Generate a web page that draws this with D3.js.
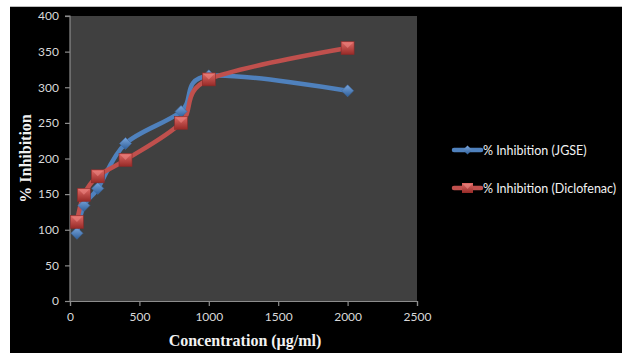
<!DOCTYPE html>
<html>
<head>
<meta charset="utf-8">
<script src="https://cdn.jsdelivr.net/npm/d3@7"></script>
<style>
  html, body { margin: 0; padding: 0; background: #fff; }
  svg { display: block; }
</style>
</head>
<body>
<svg id="chart" width="622" height="353"></svg>
<script>
// Concentration levels (µg/ml)
const concentrations = [50, 100, 200, 400, 800, 1000, 2000];
// % inhibition for the extract and the reference drug
const inhibitionJGSE = [95, 134, 158, 221, 266, 316, 295];
const inhibitionDiclofenac = [111, 149, 175, 198, 250, 311, 355];
const seriesNames = ["% Inhibition (JGSE)", "% Inhibition (Diclofenac)"];
const xTicks = [0, 500, 1000, 1500, 2000, 2500];
const yTicks = [0, 50, 100, 150, 200, 250, 300, 350, 400];

const svg = d3.select("#chart");
const W = 622, H = 353;

// outer frame: thin white margin, black chart area
svg.append("rect").attr("width", W).attr("height", H).attr("fill", "#fff");
svg.append("line").attr("x1", 10).attr("x2", W).attr("y1", 6.5).attr("y2", 6.5)
  .attr("stroke", "#bdbdbd").attr("stroke-width", 1);
svg.append("rect").attr("x", 10).attr("y", 7).attr("width", W - 10).attr("height", H - 7).attr("fill", "#000");

const plot = { left: 70, right: 417, top: 16, bottom: 301 };
const x = d3.scaleLinear().domain([0, 2500]).range([plot.left, plot.right]);
const y = d3.scaleLinear().domain([0, 400]).range([plot.bottom, plot.top]);

svg.append("rect")
  .attr("x", plot.left).attr("y", plot.top)
  .attr("width", plot.right - plot.left).attr("height", plot.bottom - plot.top)
  .attr("fill", "#404040");

// gradients for marker shading
const defs = svg.append("defs");
function grad(id, c1, c2) {
  const g = defs.append("linearGradient").attr("id", id)
    .attr("x1", "0").attr("y1", "0").attr("x2", "0").attr("y2", "1");
  g.append("stop").attr("offset", "0%").attr("stop-color", c1);
  g.append("stop").attr("offset", "100%").attr("stop-color", c2);
}
grad("gBlue", "#7aa6dd", "#2f5f99");
grad("gRed", "#e06a66", "#962a27");

// axes
const axisColor = "#8c8c8c";
const tickColor = "#d9d9d9";
const xAxis = svg.append("g").attr("transform", `translate(0,${plot.bottom})`)
  .call(d3.axisBottom(x).tickValues(xTicks).tickSize(5).tickPadding(6).tickFormat(d3.format("d")));
const yAxis = svg.append("g").attr("transform", `translate(${plot.left},0)`)
  .call(d3.axisLeft(y).tickValues(yTicks).tickSize(5).tickPadding(6).tickFormat(d3.format("d")));
[xAxis, yAxis].forEach(a => {
  a.selectAll("path, line").attr("stroke", axisColor).attr("stroke-width", 1.2);
  a.selectAll("text").attr("fill", tickColor)
    .style("font-family", "Lato, 'Open Sans', sans-serif").style("font-size", "12px");
});
yAxis.select(".domain").attr("d", `M-5,${plot.top}H0V${plot.bottom}`);

// axis titles
svg.append("text")
  .attr("x", 245).attr("y", 346)
  .attr("text-anchor", "middle")
  .attr("fill", "#f2f2f2")
  .style("font-family", "'Liberation Serif', 'Times New Roman', serif")
  .style("font-weight", "bold").style("font-size", "16px")
  .text("Concentration (µg/ml)");
svg.append("text")
  .attr("transform", `translate(31,${(plot.top + plot.bottom) / 2}) rotate(-90)`)
  .attr("text-anchor", "middle")
  .attr("fill", "#f2f2f2")
  .style("font-family", "'Liberation Serif', 'Times New Roman', serif")
  .style("font-weight", "bold").style("font-size", "16px")
  .text("% Inhibition");

const line = d3.line()
  .x((d, i) => x(concentrations[i]))
  .y(d => y(d))
  .curve(d3.curveCardinal.tension(0));

const series = [
  { name: seriesNames[0], values: inhibitionJGSE, color: "#4f81bd", fill: "url(#gBlue)", shape: "diamond" },
  { name: seriesNames[1], values: inhibitionDiclofenac, color: "#c0504d", fill: "url(#gRed)", shape: "square" }
];

function drawMarker(g, shape, cx, cy, fill) {
  if (shape === "diamond") {
    const r = 6;
    g.append("path")
      .attr("d", `M${cx},${cy - r}L${cx + r},${cy}L${cx},${cy + r}L${cx - r},${cy}Z`)
      .attr("fill", fill).attr("stroke", "#3a6aa5").attr("stroke-width", 0.6);
  } else {
    const s = 13;
    g.append("rect")
      .attr("x", cx - s / 2).attr("y", cy - s / 2).attr("width", s).attr("height", s)
      .attr("fill", fill).attr("stroke", "#8a2a28").attr("stroke-width", 0.6);
    // bevel highlight
    g.append("path")
      .attr("d", `M${cx - s / 2 + 1},${cy - s / 2 + 1}L${cx + s / 2 - 1},${cy - s / 2 + 1}L${cx},${cy}Z`)
      .attr("fill", "#ee8a86").attr("opacity", 0.55);
  }
}

series.forEach(s => {
  svg.append("path")
    .datum(s.values)
    .attr("d", line)
    .attr("fill", "none")
    .attr("stroke", s.color)
    .attr("stroke-width", 4.5)
    .attr("stroke-linecap", "round")
    .attr("stroke-linejoin", "round");
});
series.forEach(s => {
  const g = svg.append("g");
  s.values.forEach((v, i) => drawMarker(g, s.shape, x(concentrations[i]), y(v), s.fill));
});

// legend
const legendY = [150, 188];
series.forEach((s, i) => {
  const g = svg.append("g");
  const ly = legendY[i];
  g.append("line").attr("x1", 454).attr("x2", 481).attr("y1", ly).attr("y2", ly)
    .attr("stroke", s.color).attr("stroke-width", 4.5).attr("stroke-linecap", "round");
  if (s.shape === "diamond") {
    const r = 4.5, cx = 467.5;
    g.append("path").attr("d", `M${cx},${ly - r}L${cx + r},${ly}L${cx},${ly + r}L${cx - r},${ly}Z`)
      .attr("fill", s.fill);
  } else {
    g.append("rect").attr("x", 462).attr("y", ly - 5).attr("width", 11).attr("height", 10).attr("fill", s.fill);
    g.append("path").attr("d", `M463,${ly - 4}L472,${ly - 4}L467.5,${ly + 1}Z`).attr("fill", "#ee8a86").attr("opacity", 0.6);
  }
  g.append("text").attr("x", 483).attr("y", ly + 4.5)
    .attr("fill", "#f2f2f2")
    .style("font-family", "Lato, 'Open Sans', sans-serif").style("font-size", "12.5px")
    .text(s.name);
});
</script>
</body>
</html>
